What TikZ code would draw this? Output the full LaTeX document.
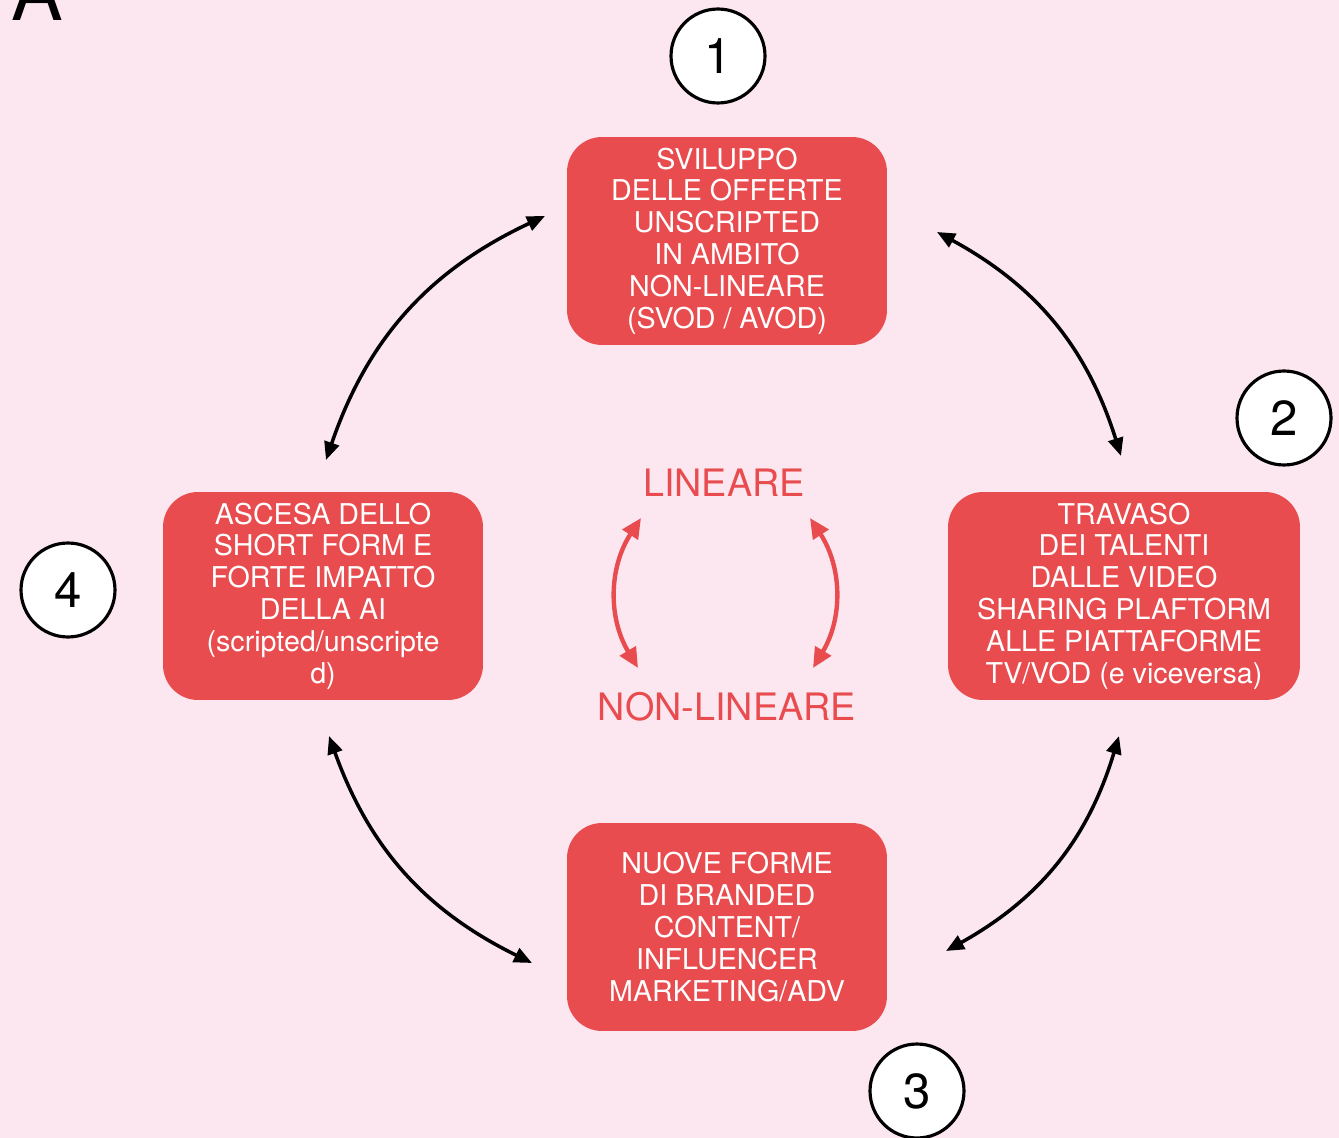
\documentclass[tikz,border=0pt]{standalone}
\usepackage{fontspec}
\setmainfont{TeX Gyre Heros}
\usetikzlibrary{arrows.meta}
\definecolor{bgpink}{HTML}{FCE7F0}
\definecolor{boxred}{HTML}{E84C4F}
\tikzstyle{redbox}=[rectangle,fill=boxred,rounded corners=0.7cm,
                    text=white,align=center,inner sep=0pt,
                    minimum width=6.4cm,minimum height=4.16cm,
                    font=\fontsize{16.3}{18.1}\selectfont]
\tikzstyle{numdot}=[circle,draw=black,fill=white,line width=1.8pt,
                    inner sep=0pt,minimum size=1.88cm,
                    font=\fontsize{28}{28}\selectfont]
\tikzstyle{redtext}=[text=boxred,font=\fontsize{21.5}{21.5}\selectfont]
\tikzstyle{blackarrow}=[draw=black,line width=2pt,
                    {Triangle[length=0.36cm,width=0.3cm]}-{Triangle[length=0.36cm,width=0.3cm]}]
\tikzstyle{redarrow}=[draw=boxred,line width=2.5pt,
                    {Triangle[length=0.4cm,width=0.36cm]}-{Triangle[length=0.4cm,width=0.36cm]}]

\begin{document}
\begin{tikzpicture}[x=0.02cm,y=-0.02cm]
    \fill[bgpink] (0,0) rectangle (1339,1138);
    \useasboundingbox (0,0) rectangle (1339,1138);
    \node (lettera) at (37,21) [anchor=base,font=\fontsize{44}{44}\selectfont]{A};
    % the four boxes
    \node (b1) at (727,241) [redbox]{SVILUPPO\\DELLE OFFERTE\\UNSCRIPTED\\IN AMBITO\\NON-LINEARE\\(SVOD / AVOD)};
    \node (b2) at (1124,596) [redbox,minimum width=7.04cm]{TRAVASO\\DEI TALENTI\\DALLE VIDEO\\SHARING PLAFTORM\\ALLE PIATTAFORME\\TV/VOD (e viceversa)};
    \node (b3) at (727,927) [redbox]{NUOVE FORME\\DI BRANDED\\CONTENT/\\INFLUENCER\\MARKETING/ADV};
    \node (b4) at (323,596) [redbox]{ASCESA DELLO\\SHORT FORM E\\FORTE IMPATTO\\DELLA AI\\(scripted/unscripte\\d)};
    % numbers
    \node (n1) at (718,56) [numdot]{1};
    \node (n2) at (1284,418) [numdot]{2};
    \node (n3) at (917,1091) [numdot]{3};
    \node (n4) at (68,590) [numdot]{4};
    % centre
    \node (lin) at (724,483) [redtext]{LINEARE};
    \node (nonlin) at (727,707) [redtext]{NON-LINEARE};
    \coordinate (l1) at (641,518);
    \coordinate (l2) at (638,668);
    \coordinate (r1) at (810,518);
    \coordinate (r2) at (813,668);
    \draw[redarrow] (l1) to[bend right=32] (l2);
    \draw[redarrow] (r1) to[bend left=32] (r2);
    % outer ring
    \coordinate (p1) at (1121,456);
    \coordinate (p2) at (937,232);
    \coordinate (p3) at (545,216);
    \coordinate (p4) at (326,460);
    \coordinate (p5) at (329,736);
    \coordinate (p6) at (532,963);
    \coordinate (p7) at (946,951);
    \coordinate (p8) at (1119,736);
    \draw[blackarrow] (p1) to[bend right=22] (p2);
    \draw[blackarrow] (p3) to[bend right=23] (p4);
    \draw[blackarrow] (p5) to[bend right=22] (p6);
    \draw[blackarrow] (p7) to[bend right=22] (p8);
\end{tikzpicture}
\end{document}
